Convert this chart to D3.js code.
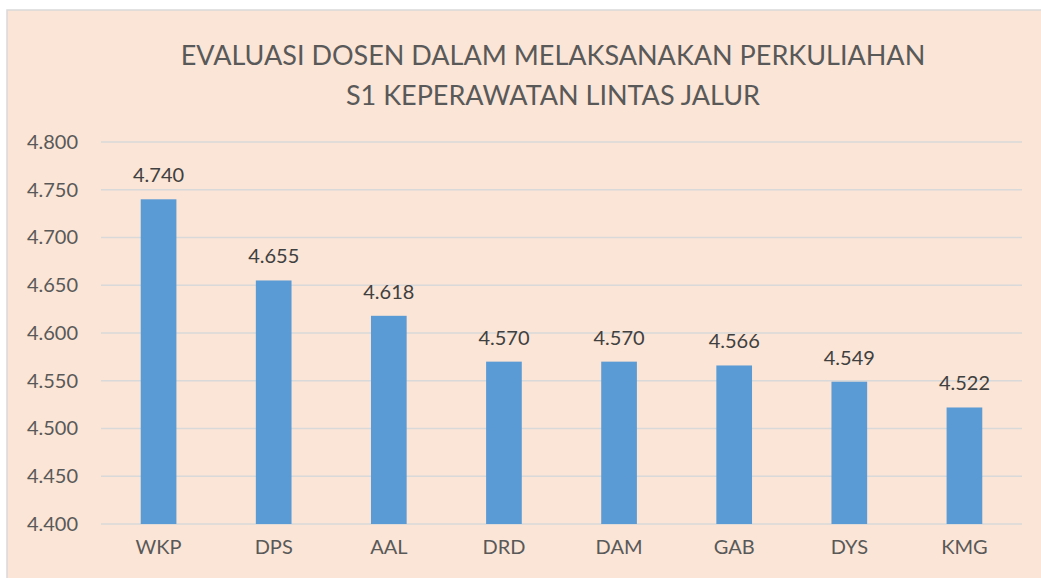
<!DOCTYPE html>
<html><head><meta charset="utf-8">
<script src="https://cdn.jsdelivr.net/npm/d3@7"></script>
<style>body{margin:0;background:#fff}svg{display:block}</style>
</head><body>
<svg id="c" width="1041" height="578"></svg>
<script>
const categories = ["WKP","DPS","AAL","DRD","DAM","GAB","DYS","KMG"];
const values = [4.740,4.655,4.618,4.570,4.570,4.566,4.549,4.522];
const yTicks = [4.400,4.450,4.500,4.550,4.600,4.650,4.700,4.750,4.800];
const titleLines = ["EVALUASI DOSEN DALAM MELAKSANAKAN PERKULIAHAN","S1 KEPERAWATAN LINTAS JALUR"];

const svg = d3.select("#c");
const font = "Lato, 'Open Sans', sans-serif";
svg.append("rect").attr("x",7).attr("y",10).attr("width",1041).attr("height",600)
  .attr("fill","#FBE5D6").attr("stroke","#D9D9D9").attr("stroke-width",1.5);

const x = d3.scaleBand().domain(categories).range([101,1022]).paddingInner(0.69).paddingOuter(0.345);
const y = d3.scaleLinear().domain([4.4,4.8]).range([524,142]);

// grid
svg.append("g").selectAll("line").data(yTicks).join("line")
  .attr("x1",101).attr("x2",1022).attr("y1",d=>y(d)).attr("y2",d=>y(d))
  .attr("stroke","#D9D9D9").attr("stroke-width",1.5);

// y axis labels
const yAxis = d3.axisLeft(y).tickValues(yTicks).tickFormat(d3.format(".3f")).tickSize(0).tickPadding(0);
const ga = svg.append("g").attr("transform","translate(78,0)").call(yAxis);
ga.select(".domain").remove();
ga.selectAll("text").attr("font-family",font).attr("font-size",20).attr("fill","#595959");

// x axis labels
const xAxis = d3.axisBottom(x).tickSize(0).tickPadding(0);
const gx = svg.append("g").attr("transform","translate(0,540)").call(xAxis);
gx.select(".domain").remove();
gx.selectAll("text").attr("font-family",font).attr("font-size",20).attr("fill","#595959").attr("dy","0.71em");

// bars
svg.append("g").selectAll("rect").data(values).join("rect")
  .attr("x",(d,i)=>x(categories[i])).attr("width",x.bandwidth())
  .attr("y",d=>y(d)).attr("height",d=>y(4.4)-y(d)).attr("fill","#5B9BD5");

// labels
svg.append("g").selectAll("text").data(values).join("text")
  .attr("x",(d,i)=>x(categories[i])+x.bandwidth()/2).attr("y",d=>y(d)-17)
  .attr("text-anchor","middle").attr("font-family",font).attr("font-size",20).attr("fill","#404040")
  .text(d=>d3.format(".3f")(d));

// title
svg.append("g").selectAll("text").data(titleLines).join("text")
  .attr("x",553).attr("y",(d,i)=>65+i*40).attr("text-anchor","middle")
  .attr("font-family",font).attr("font-size",27).attr("fill","#595959").text(d=>d);
</script>
</body></html>
